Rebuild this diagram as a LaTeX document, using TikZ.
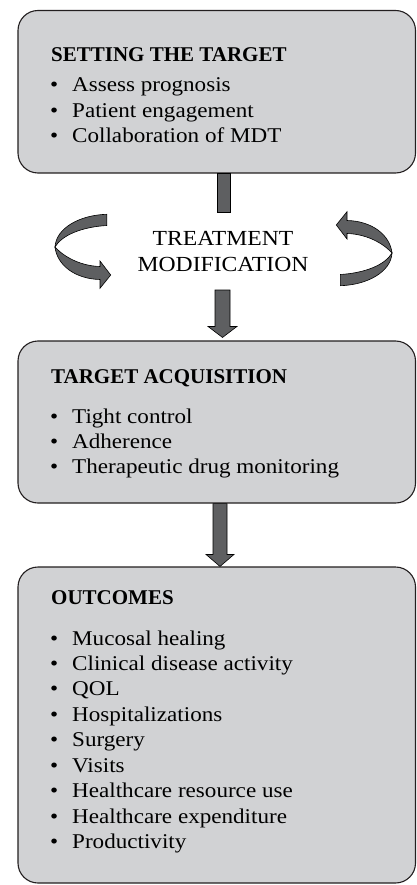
\documentclass[tikz,border=0pt]{standalone}
\usepackage{fontspec}
\setmainfont{Liberation Serif}
\newfontfamily\bodyfont{Liberation Serif}[FakeStretch=1.1]
\usetikzlibrary{calc}
\definecolor{boxfill}{HTML}{D1D2D4}
\definecolor{arrfill}{HTML}{5E5F61}
\definecolor{edge}{HTML}{231F20}
\begin{document}
\begin{tikzpicture}[x=1pt,y=-1pt,
  panel/.style={draw=edge, line width=1.1pt, fill=boxfill, rounded corners=20pt, inner sep=0pt},
  ttl/.style={anchor=base west, inner sep=0pt, font=\fontsize{21}{24}\selectfont\bfseries},
  itm/.style={anchor=base west, inner sep=0pt, font=\bodyfont\fontsize{21}{24}\selectfont},
  mid/.style={anchor=base, inner sep=0pt, font=\bodyfont\fontsize{21.5}{26}\selectfont},
  arr/.style={draw=black, line width=0.6pt, fill=arrfill, line join=miter}]
\useasboundingbox (0,0) rectangle (417,885);
\fill[white] (0,0) rectangle (417,885);

% panels
\node[panel, minimum width=397.5pt, minimum height=162.5pt] (box1) at (216.75,91.75) {};
\node[panel, minimum width=397.5pt, minimum height=162pt] (box2) at (216.75,422) {};
\node[panel, minimum width=397.5pt, minimum height=316pt] (box3) at (216.75,725) {};

% box 1 text
\node[ttl] (t1) at (51,62) {SETTING THE TARGET};
\foreach \txt [count=\i] in {Assess prognosis, Patient engagement, Collaboration of MDT}
  \node[itm] (a\i) at (72,{92+25.5*(\i-1)}) {\llap{\textbullet\hspace{14pt}}\txt};

% box 2 text
\node[ttl] (t2) at (51,383) {TARGET ACQUISITION};
\foreach \txt [count=\i] in {Tight control, Adherence, Therapeutic drug monitoring}
  \node[itm] (b\i) at (72,{423+25*(\i-1)}) {\llap{\textbullet\hspace{14pt}}\txt};

% box 3 text
\node[ttl] (t3) at (51,604) {OUTCOMES};
\foreach \txt [count=\i] in {Mucosal healing, Clinical disease activity, QOL, Hospitalizations, Surgery, Visits, Healthcare resource use, Healthcare expenditure, Productivity}
  \node[itm] (c\i) at (72,{645+25.45*(\i-1)}) {\llap{\textbullet\hspace{14pt}}\txt};

% middle text
\node[mid] (tm1) at (223,245) {TREATMENT};
\node[mid] (tm2) at (223,271) {MODIFICATION};

% connector from box1 (bar)
\coordinate (bar1) at (223.5,212);
\coordinate (bar1top) at (box1.south -| bar1);
\path[arr] ($(bar1top)+(-6.5,0)$) rectangle ($(bar1)+(6.5,0)$);

% arrow 2 (to box2)
\coordinate (a2s) at (222.5,290);
\coordinate (a2t) at ($(box2.north -| a2s)+(0,-3)$);
\path[arr] ($(a2s)+(-7.5,0)$) -- ($(a2t)+(-7.5,-11)$) -- ($(a2t)+(-14.5,-11)$) -- (a2t)
  -- ($(a2t)+(14.5,-11)$) -- ($(a2t)+(7.5,-11)$) -- ($(a2s)+(7.5,0)$) -- cycle;

% arrow 3 (box2 to box3)
\coordinate (a3s) at (box2.south -| 220,0);
\coordinate (a3t) at (box3.north -| 220,0);
\path[arr] ($(a3s)+(-7,0)$) -- ($(a3t)+(-7,-12)$) -- ($(a3t)+(-14,-12)$) -- (a3t)
  -- ($(a3t)+(14,-12)$) -- ($(a3t)+(7,-12)$) -- ($(a3s)+(7,0)$) -- cycle;

% curved arrows
\begin{scope}
  \path[arr] (55,247) .. controls (65,258) and (82,266) .. (100,266.5) -- (100,261) -- (110.7,275) -- (100,288.3) -- (100,279.5) .. controls (75,279) and (57,265) .. (55,247) -- cycle;
  \path[arr] (106.7,214.3) .. controls (80,215) and (56,228) .. (55,247) .. controls (62,235) and (82,227) .. (106.7,225.5) -- cycle;
\end{scope}
\begin{scope}[rotate around={180:(223.5,250)}]
  \path[arr] (55,247) .. controls (65,258) and (82,266) .. (100,266.5) -- (100,261) -- (110.7,275) -- (100,288.3) -- (100,279.5) .. controls (75,279) and (57,265) .. (55,247) -- cycle;
  \path[arr] (106.7,214.3) .. controls (80,215) and (56,228) .. (55,247) .. controls (62,235) and (82,227) .. (106.7,225.5) -- cycle;
\end{scope}
\end{tikzpicture}
\end{document}
